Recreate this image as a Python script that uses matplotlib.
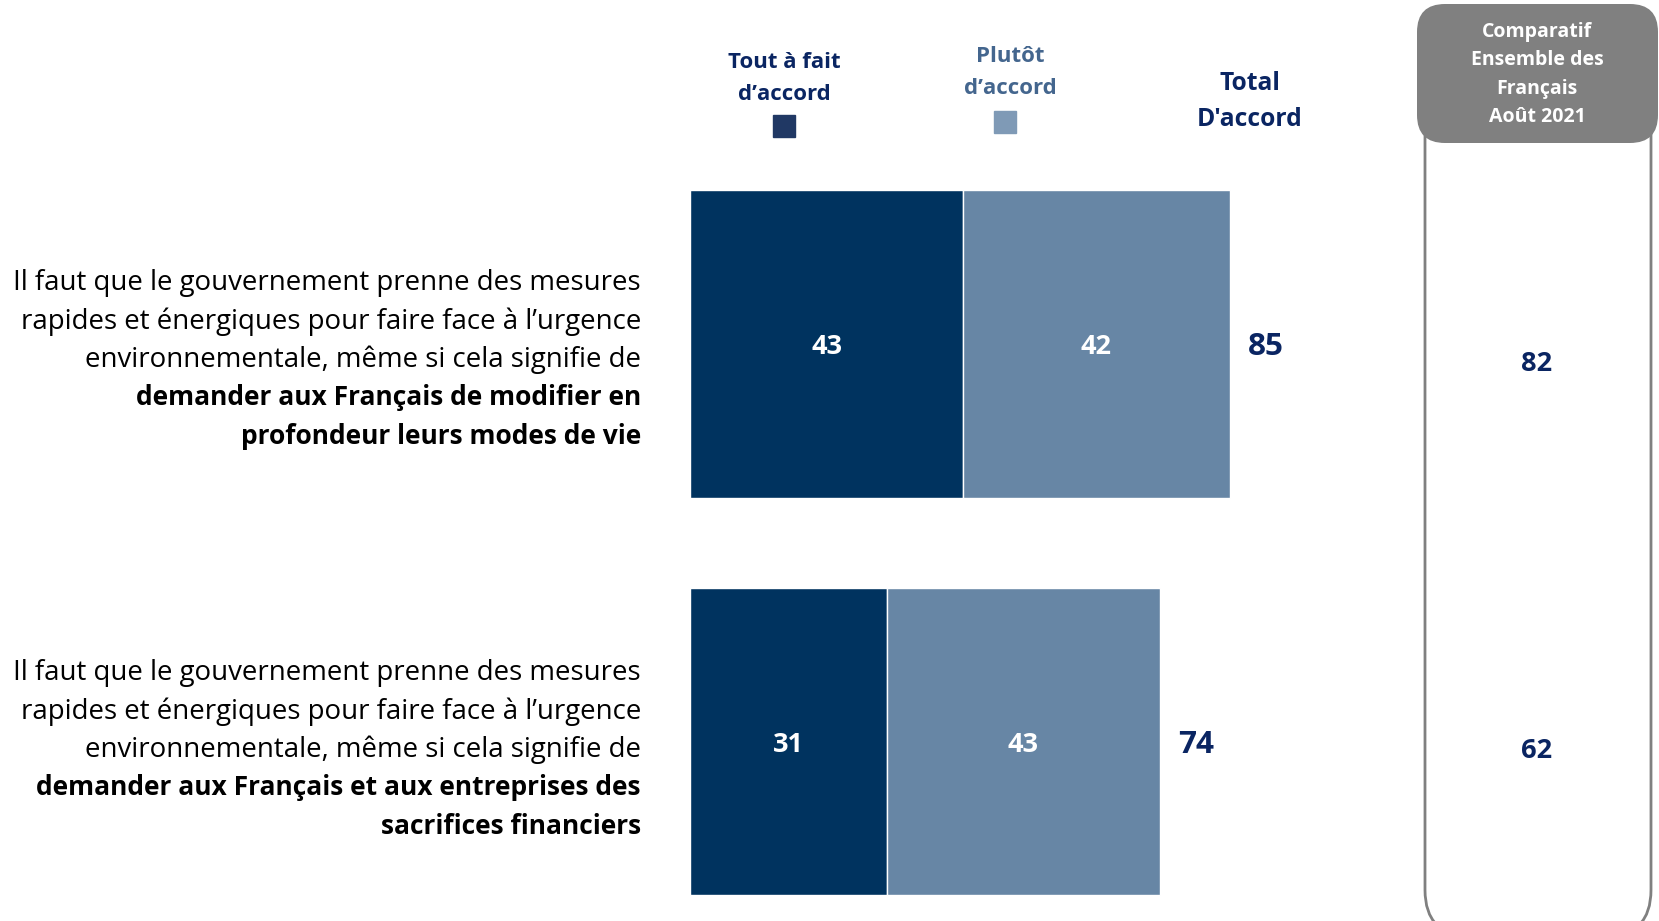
import matplotlib
matplotlib.use("Agg")
import matplotlib.pyplot as plt
from matplotlib.patches import FancyBboxPatch, Rectangle
from matplotlib.transforms import ScaledTranslation

# ---------------- data ----------------
tout_a_fait = [43, 31]
plutot = [42, 43]
total = [85, 74]
comparatif_2021 = [82, 62]
series_labels = ["Tout à fait\nd’accord", "Plutôt\nd’accord", "Total\nD'accord"]
statement_regular = [
    ["Il faut que le gouvernement prenne des mesures",
     "rapides et énergiques pour faire face à l’urgence",
     "environnementale, même si cela signifie de"],
    ["Il faut que le gouvernement prenne des mesures",
     "rapides et énergiques pour faire face à l’urgence",
     "environnementale, même si cela signifie de"],
]
statement_bold = [
    ["demander aux Français de modifier en",
     "profondeur leurs modes de vie"],
    ["demander aux Français et aux entreprises des",
     "sacrifices financiers"],
]
comparatif_title = ["Comparatif", "Ensemble des", "Français", "Août 2021"]

# ---------------- style ----------------
W, H, DPI = 1659, 921, 100
DARK = "#00335F"
LIGHT = "#6786A5"
NAVY_TXT = "#0A2562"
LEG_DARK = "#203864"
LEG_LIGHT = "#7F9AB6"
PLUTOT_TXT = "#44668E"
GREY = "#808080"
plt.rcParams['font.family'] = ['Open Sans', 'DejaVu Sans']

fig = plt.figure(figsize=(W / DPI, H / DPI), dpi=DPI)
renderer = fig.canvas.get_renderer()

# overlay in pixel coordinates (y downwards)
ov = fig.add_axes([0, 0, 1, 1], zorder=0)
ov.set_xlim(0, W)
ov.set_ylim(H, 0)
ov.axis('off')
DY = 3  # small downward nudge for vertically centred text (px)


def fit_size(s, target_w, weight='normal'):
    t = ov.text(0, 0, s, fontsize=10, fontweight=weight)
    w = t.get_window_extent(renderer).width
    t.remove()
    return 10 * target_w / w


# ---------------- bar axes ----------------
px_per_unit = 6.35
ax_left, ax_right = 690, 690 + 100 * px_per_unit
y_top_px, y_bot_px = 165, 909
ax = fig.add_axes([ax_left / W, (H - y_bot_px) / H, (ax_right - ax_left) / W,
                   (y_bot_px - y_top_px) / H], zorder=2)
ax.set_xlim(0, 100)
ax.set_ylim(1.42, -0.45)
ax.axis('off')
nudge = ax.transData + ScaledTranslation(0, -DY / DPI, fig.dpi_scale_trans)

ypos = list(range(len(total)))
bar_h = 0.772
ax.barh(ypos, tout_a_fait, height=bar_h, color=DARK, edgecolor='white', linewidth=1.0)
ax.barh(ypos, plutot, left=tout_a_fait, height=bar_h, color=LIGHT,
        edgecolor='white', linewidth=1.0)

val_fs = fit_size("43", 31, 'bold')
tot_fs = fit_size("85", 36, 'bold')
for i in ypos:
    ax.text(tout_a_fait[i] / 2, i, str(tout_a_fait[i]), color='white',
            fontsize=val_fs, fontweight='bold', ha='center', va='center',
            transform=nudge)
    ax.text(tout_a_fait[i] + plutot[i] / 2, i, str(plutot[i]), color='white',
            fontsize=val_fs, fontweight='bold', ha='center', va='center',
            transform=nudge)
    ax.text(total[i] + 2.9, i, str(total[i]), color=NAVY_TXT,
            fontsize=tot_fs, fontweight='bold', ha='left', va='center',
            transform=nudge)

# ---------------- statements ----------------
lab_fs = fit_size(statement_regular[0][0], 628)
bold_fs = fit_size(statement_bold[1][0], 606, 'bold')
line_gap = 38.3
first_line_y = [280 + DY, 670 + DY]
for k in range(2):
    lines = [(s, 'normal', lab_fs) for s in statement_regular[k]] + \
            [(s, 'bold', bold_fs) for s in statement_bold[k]]
    for j, (s, wgt, fs) in enumerate(lines):
        ov.text(641, first_line_y[k] + j * line_gap, s, fontsize=fs,
                fontweight=wgt, color='black', ha='right', va='center')

# ---------------- header legend ----------------
hdr_fs = fit_size("Tout à fait", 113, 'bold')
l1 = series_labels[0].split("\n")
ov.text(784, 59 + DY, l1[0], fontsize=hdr_fs, fontweight='bold', color=NAVY_TXT,
        ha='center', va='center')
ov.text(784, 91 + DY, l1[1], fontsize=hdr_fs, fontweight='bold', color=NAVY_TXT,
        ha='center', va='center')
ov.add_patch(Rectangle((773, 115), 22, 22, color=LEG_DARK))

l2 = series_labels[1].split("\n")
ov.text(1010, 54 + DY, l2[0], fontsize=hdr_fs, fontweight='bold', color=PLUTOT_TXT,
        ha='center', va='center')
ov.text(1010, 86 + DY, l2[1], fontsize=hdr_fs, fontweight='bold', color=PLUTOT_TXT,
        ha='center', va='center')
ov.add_patch(Rectangle((994, 111), 22, 22, color=LEG_LIGHT))

tot_hdr_fs = fit_size("D'accord", 106, 'bold')
l3 = series_labels[2].split("\n")
ov.text(1250, 80 + DY, l3[0], fontsize=tot_hdr_fs, fontweight='bold', color=NAVY_TXT,
        ha='center', va='center')
ov.text(1250, 117 + DY, l3[1], fontsize=tot_hdr_fs, fontweight='bold', color=NAVY_TXT,
        ha='center', va='center')

# ---------------- comparatif column ----------------
ov.add_patch(FancyBboxPatch((1425 + 46, 100), (1651 - 1425) - 92, 936 - 100 - 46,
                            boxstyle="round,pad=46", facecolor='white',
                            edgecolor=GREY, linewidth=2, zorder=1))
ov.add_patch(FancyBboxPatch((1417 + 28, 4 + 28), (1658 - 1417) - 56, (143 - 4) - 56,
                            boxstyle="round,pad=28", facecolor=GREY,
                            edgecolor='none', zorder=2))
cmp_fs = fit_size("Comparatif", 110, 'bold')
for j, s in enumerate(comparatif_title):
    ov.text(1537, 29 + DY + j * 28.3, s, fontsize=cmp_fs, fontweight='bold',
            color='white', ha='center', va='center', zorder=3)
cmp_y = [361 + DY, 748 + DY]
for i, v in enumerate(comparatif_2021):
    ov.text(1537, cmp_y[i], str(v), fontsize=val_fs, fontweight='bold',
            color=NAVY_TXT, ha='center', va='center', zorder=3)

fig.savefig("out.png", dpi=DPI)
